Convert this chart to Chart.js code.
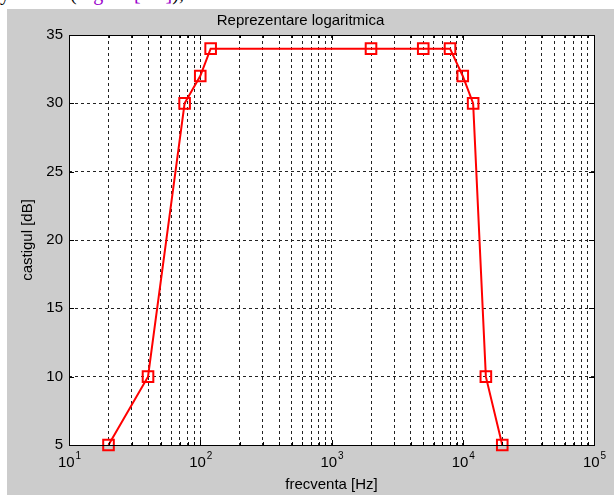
<!DOCTYPE html>
<html>
<head>
<meta charset="utf-8">
<script src="https://cdn.jsdelivr.net/npm/chart.js@4/dist/chart.umd.min.js"></script>
<style>
  html, body { margin: 0; padding: 0; background: #fff; }
  body { width: 614px; height: 495px; overflow: hidden; position: relative; }
  #doc {
    position: absolute; left: 0; top: -18px; white-space: pre;
    font: 20px "Liberation Serif", serif; color: #000;
  }
  #doc .ref { color: #9900cc; }
  #fig {
    position: absolute; left: 7px; top: 9px; width: 607px; height: 486px;
    background: #cccccc;
  }
</style>
</head>
<body>
<div id="doc">y            (<span class="ref">Figura [3.2]</span>),</div>
<div id="fig"><canvas id="bodePlot" width="607" height="486"></canvas></div>
<script>
// masuratori: frecventa [Hz] si castigul [dB]
const freqHz = [20, 40, 76, 100, 120, 2000, 5000, 8000, 10000, 12000, 15000, 20000];
const gainDb = [5, 10, 30, 32, 34, 34, 34, 34, 32, 30, 10, 5];

// decadele axei x si gradatiile axei y
const decades = [10, 100, 1000, 10000, 100000];
const decadeExp = ["1", "2", "3", "4", "5"];
const yTicks = [5, 10, 15, 20, 25, 30, 35];

const FONT = "Liberation Sans";

// liniile de grila pe x: 1..9 x fiecare decada
const xGrid = [];
decades.slice(0, -1).forEach(d => {
    for (let m = 1; m < 10; m++) xGrid.push(d * m);
});
xGrid.push(decades[decades.length - 1]);

// fundal alb pentru zona graficului
const plotBackground = {
    id: "plotBackground",
    beforeDraw(chart) {
        const a = chart.chartArea;
        const c = chart.ctx;
        c.save();
        c.fillStyle = "#ffffff";
        c.fillRect(a.left, a.top, a.right - a.left, a.bottom - a.top);
        c.restore();
    }
};

// chenar, gradatii interioare si etichetele 10^n
const axesBox = {
    id: "axesBox",
    afterDatasetsDraw(chart) {
        const a = chart.chartArea;
        const c = chart.ctx;
        const xs = chart.scales.x;
        const ys = chart.scales.y;
        c.save();
        c.strokeStyle = "#000";
        c.lineWidth = 1;
        c.beginPath();
        xGrid.forEach(v => {
            const px = Math.round(xs.getPixelForValue(v)) + 0.5;
            const len = decades.includes(v) ? 5 : 3;
            c.moveTo(px, a.bottom); c.lineTo(px, a.bottom - len);
            c.moveTo(px, a.top); c.lineTo(px, a.top + len);
        });
        yTicks.forEach(v => {
            const py = Math.round(ys.getPixelForValue(v)) + 0.5;
            c.moveTo(a.left, py); c.lineTo(a.left + 5, py);
            c.moveTo(a.right, py); c.lineTo(a.right - 5, py);
        });
        c.stroke();
        c.strokeRect(Math.round(a.left) + 0.5, Math.round(a.top) + 0.5,
            Math.round(a.right - a.left), Math.round(a.bottom - a.top));

        c.fillStyle = "#000";
        c.textBaseline = "alphabetic";
        decades.forEach((d, i) => {
            const px = xs.getPixelForValue(d);
            c.font = "15px '" + FONT + "'";
            const wBase = c.measureText("10").width;
            c.font = "10px '" + FONT + "'";
            const wExp = c.measureText(decadeExp[i]).width;
            const x0 = px - (wBase + wExp) / 2;
            c.font = "15px '" + FONT + "'";
            c.textAlign = "left";
            c.fillText("10", x0, a.bottom + 22);
            c.font = "10px '" + FONT + "'";
            c.fillText(decadeExp[i], x0 + wBase + 1, a.bottom + 14);
        });
        c.restore();
    }
};

new Chart(document.getElementById("bodePlot"), {
    type: "line",
    data: {
        datasets: [{
            data: freqHz.map((f, i) => ({ x: f, y: gainDb[i] })),
            borderColor: "#ff0000",
            borderWidth: 2,
            pointStyle: "rect",
            pointRadius: 7.5,
            pointBorderWidth: 2,
            pointBorderColor: "#ff0000",
            pointBackgroundColor: "rgba(0,0,0,0)",
            tension: 0,
            clip: false
        }]
    },
    options: {
        responsive: false,
        animation: false,
        devicePixelRatio: 1,
        layout: { padding: { left: 0, right: 20, top: 0, bottom: 0 } },
        plugins: {
            legend: { display: false },
            tooltip: { enabled: false },
            title: {
                display: true,
                text: "Reprezentare logaritmica",
                color: "#000",
                font: { family: FONT, size: 15, weight: "normal" },
                padding: { top: 3, bottom: 5 }
            }
        },
        scales: {
            x: {
                type: "logarithmic",
                min: 10,
                max: 100000,
                afterBuildTicks: s => { s.ticks = xGrid.map(v => ({ value: v })); },
                afterFit: s => { s.height = 50; },
                grid: { color: "#222", drawTicks: false, tickLength: 0 },
                border: { display: false, dash: [3, 3] },
                ticks: { display: false, autoSkip: false },
                title: {
                    display: true,
                    text: "frecventa [Hz]",
                    color: "#000",
                    font: { family: FONT, size: 15 },
                    padding: { top: 0, bottom: 1 }
                }
            },
            y: {
                min: 5,
                max: 35,
                afterBuildTicks: s => { s.ticks = yTicks.map(v => ({ value: v })); },
                afterFit: s => { s.width = 62; },
                grid: { color: "#222", drawTicks: false, tickLength: 0 },
                border: { display: false, dash: [3, 3] },
                ticks: {
                    color: "#000",
                    padding: 6,
                    font: { family: FONT, size: 15 }
                },
                title: {
                    display: true,
                    text: "castigul [dB]",
                    color: "#000",
                    font: { family: FONT, size: 15 },
                    padding: { top: 12, bottom: 0 }
                }
            }
        }
    },
    plugins: [plotBackground, axesBox]
});
</script>
</body>
</html>
